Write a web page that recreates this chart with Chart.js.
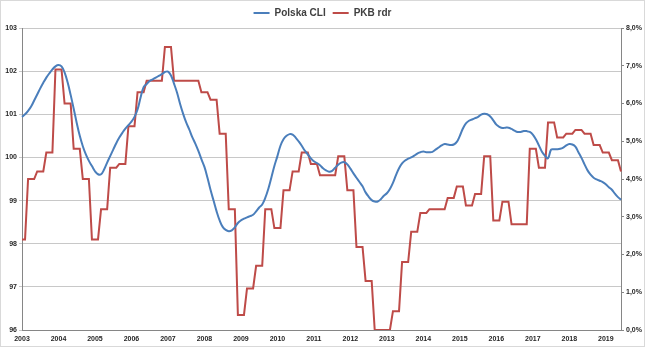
<!DOCTYPE html>
<html>
<head>
<meta charset="utf-8">
<script src="https://cdn.jsdelivr.net/npm/chart.js@4/dist/chart.umd.min.js"></script>
<style>
    html, body { margin: 0; padding: 0; background: #fff; }
    #wrap {
        width: 645px; height: 347px; box-sizing: border-box;
        border: 1px solid #d9d9d9; background: #fff;
    }
</style>
</head>
<body>
<div id="wrap"><canvas id="chart" width="643" height="345"></canvas></div>
<script>
// year tick labels (one per January)
const years = ['2003', '2004', '2005', '2006', '2007', '2008', '2009', '2010', '2011',
    '2012', '2013', '2014', '2015', '2016', '2017', '2018', '2019'];

// Polska CLI, monthly from Jan 2003
const cliValues = [
    100.94, 101.00, 101.08, 101.18, 101.32, 101.46, 101.60, 101.73, 101.85, 101.95, 102.04, 102.11,
    102.14, 102.11, 101.97, 101.74, 101.45, 101.13, 100.80, 100.50, 100.26, 100.07, 99.92, 99.80,
    99.68, 99.61, 99.61, 99.72, 99.88, 100.03, 100.18, 100.33, 100.46, 100.57, 100.67, 100.75,
    100.83, 100.94, 101.11, 101.39, 101.63, 101.70, 101.77, 101.81, 101.85, 101.89, 101.93, 101.98,
    101.99, 101.90, 101.71, 101.50, 101.24, 101.01, 100.81, 100.65, 100.47, 100.32, 100.15, 99.96,
    99.78, 99.53, 99.25, 99.00, 98.75, 98.54, 98.39, 98.32, 98.29, 98.31, 98.38, 98.48,
    98.54, 98.58, 98.61, 98.64, 98.67, 98.75, 98.84, 98.91, 99.06, 99.27, 99.53, 99.80,
    100.03, 100.27, 100.42, 100.50, 100.54, 100.53, 100.46, 100.37, 100.27, 100.16, 100.07, 99.98,
    99.91, 99.87, 99.82, 99.75, 99.70, 99.67, 99.69, 99.76, 99.83, 99.88, 99.89, 99.84,
    99.74, 99.63, 99.53, 99.43, 99.33, 99.19, 99.09, 99.01, 98.98, 98.98, 99.03, 99.11,
    99.17, 99.27, 99.41, 99.59, 99.75, 99.86, 99.93, 99.97, 100.00, 100.04, 100.09, 100.12,
    100.14, 100.12, 100.12, 100.13, 100.18, 100.23, 100.28, 100.31, 100.30, 100.29, 100.30, 100.36,
    100.50, 100.67, 100.79, 100.85, 100.88, 100.91, 100.94, 100.99, 101.01, 101.00, 100.95, 100.86,
    100.76, 100.71, 100.68, 100.69, 100.69, 100.66, 100.62, 100.59, 100.59, 100.61, 100.61, 100.59,
    100.53, 100.42, 100.28, 100.13, 100.04, 99.98, 100.18, 100.19, 100.19, 100.20, 100.23, 100.28,
    100.31, 100.30, 100.25, 100.12, 99.99, 99.84, 99.70, 99.60, 99.53, 99.49, 99.46, 99.43,
    99.38, 99.31, 99.25, 99.16, 99.08, 99.02
];

// PKB rdr (%), quarterly, each value held for three months
const pkbQuarterly = [
    2.4, 4.0, 4.2, 4.7, 6.9, 6.0, 4.8, 4.0, 2.4, 3.2, 4.3, 4.4, 5.4, 6.3, 6.6, 6.6,
    7.5, 6.6, 6.6, 6.6, 6.3, 6.1, 5.2, 3.2, 0.4, 1.1, 1.7, 3.2, 2.7, 3.7, 4.2, 4.7,
    4.4, 4.1, 4.1, 4.6, 3.7, 2.2, 1.3, 0.0, 0.0, 0.5, 1.8, 2.6, 3.1, 3.2, 3.2, 3.5,
    3.8, 3.3, 3.6, 4.6, 2.9, 3.4, 2.8, 2.8, 4.8, 4.3, 5.5, 5.1, 5.2, 5.3, 5.2, 4.9,
    4.7, 4.5, 4.2
];

const labels = cliValues.map((_, m) => years[Math.floor(m / 12)] + '-' + String(m % 12 + 1).padStart(2, '0'));
const pkbMonthly = cliValues.map((_, m) => pkbQuarterly[Math.floor((m + 1) / 3)]);

const BLUE = '#4a7ebb';
const RED = '#be4b48';
const tickFont = { family: "'Liberation Sans', Arial, sans-serif", size: 7, weight: 'bold' };

new Chart(document.getElementById('chart'), {
    type: 'line',
    data: {
        labels: labels,
        datasets: [{
            label: 'Polska CLI',
            data: cliValues,
            yAxisID: 'y',
            borderColor: BLUE,
            backgroundColor: BLUE,
            borderWidth: 2,
            pointRadius: 0,
            tension: 0.4
        }, {
            label: 'PKB rdr',
            data: pkbMonthly,
            yAxisID: 'y1',
            borderColor: RED,
            backgroundColor: RED,
            borderWidth: 2,
            pointRadius: 0,
            tension: 0
        }]
    },
    options: {
        responsive: false,
        animation: false,
        layout: { padding: 0 },
        plugins: {
            tooltip: { enabled: false },
            legend: {
                position: 'top',
                labels: {
                    color: '#404040',
                    font: { family: "'Liberation Sans', Arial, sans-serif", size: 10, weight: 'bold' },
                    boxWidth: 16,
                    boxHeight: 0,
                    padding: 7
                }
            }
        },
        scales: {
            x: {
                grid: { display: false, drawTicks: false, tickLength: 0 },
                border: { display: true, color: '#868686' },
                ticks: {
                    autoSkip: false,
                    maxRotation: 0,
                    color: '#262626',
                    font: tickFont,
                    padding: 5,
                    callback: (v, i) => (i % 12 === 0 ? years[i / 12] : null)
                },
                afterFit: s => { s.height = 16; }
            },
            y: {
                position: 'left',
                min: 96,
                max: 103,
                ticks: { stepSize: 1, color: '#262626', font: tickFont, padding: 2 },
                grid: { color: '#c8c8c8', tickLength: 3 },
                border: { color: '#868686' },
                afterFit: s => { s.width = 21; }
            },
            y1: {
                position: 'right',
                min: 0,
                max: 8,
                ticks: {
                    stepSize: 1,
                    color: '#262626',
                    font: tickFont,
                    padding: 2,
                    callback: v => v.toFixed(1).replace('.', ',') + '%'
                },
                grid: { drawOnChartArea: false, tickLength: 3, color: '#868686' },
                border: { color: '#868686' },
                afterFit: s => { s.width = 23; }
            }
        }
    }
});
</script>
</body>
</html>
